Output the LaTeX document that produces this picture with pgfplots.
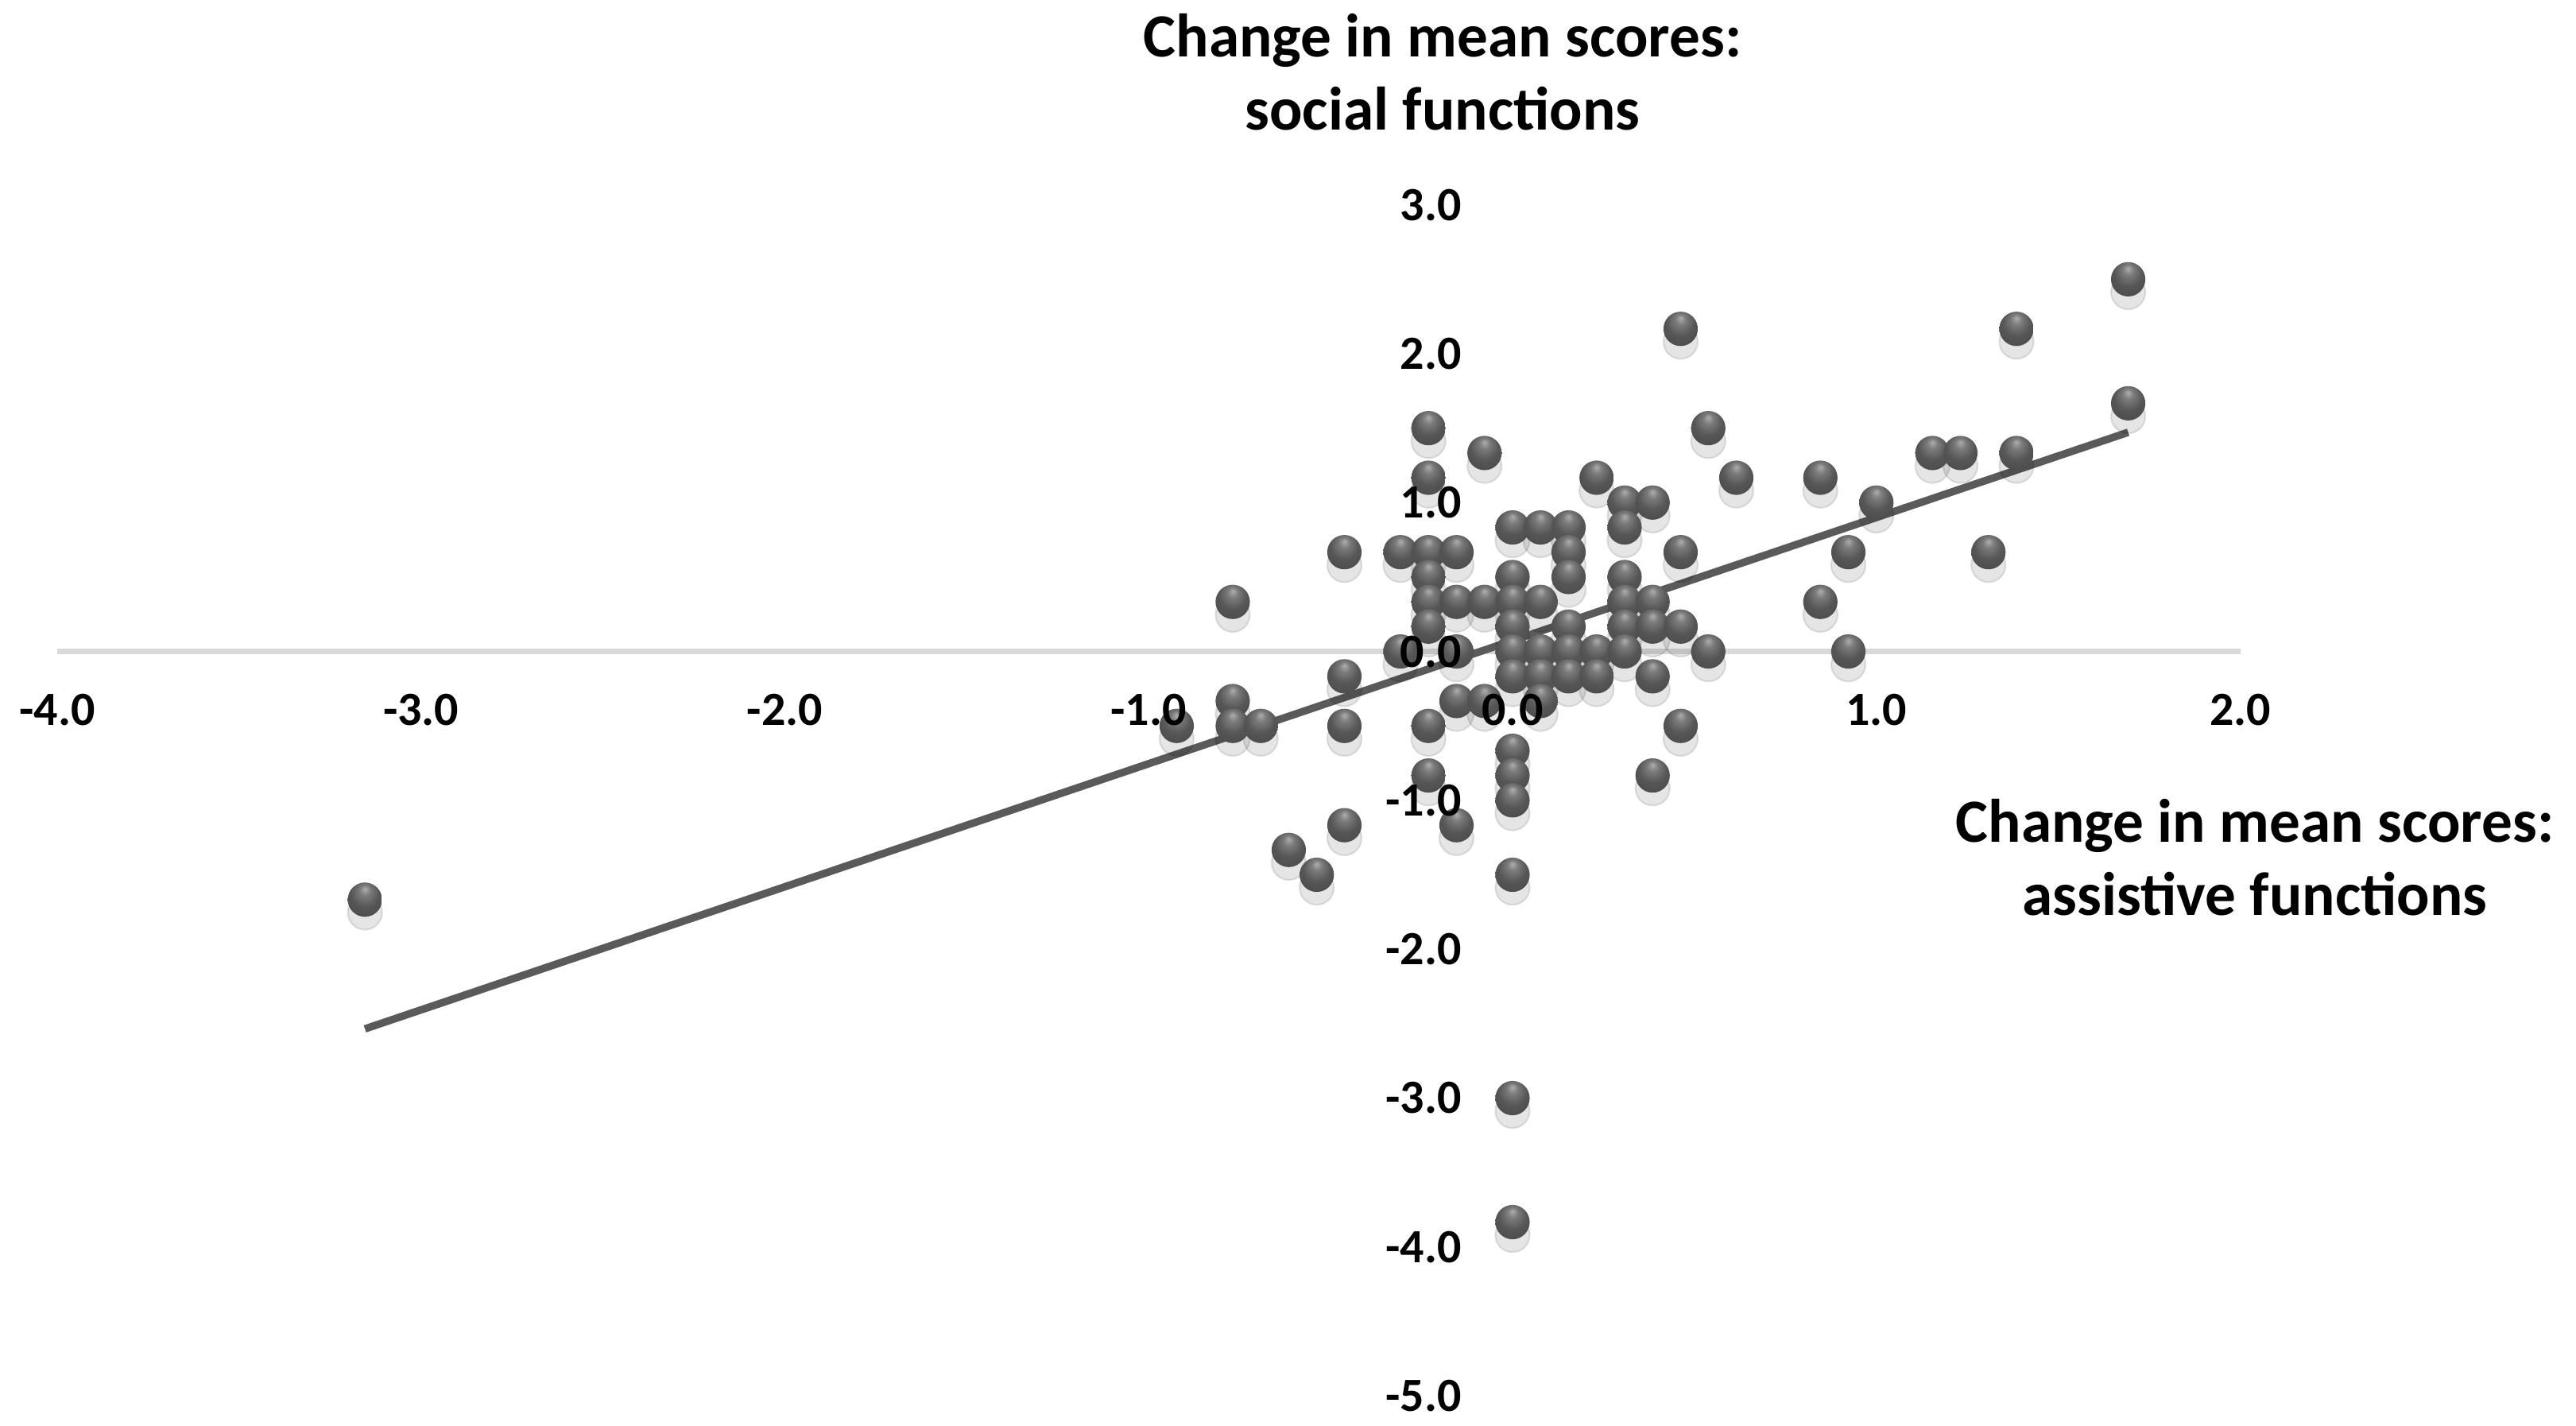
\documentclass[border=0pt]{standalone}
\usepackage{pgfplots}
\pgfplotsset{compat=1.18}
\usepackage{fontspec}
\setmainfont{Carlito}
\definecolor{trend}{HTML}{5A5A5A}
\definecolor{axisgray}{HTML}{D9D9D9}
\pgfdeclareradialshading{myball}{\pgfqpoint{0bp}{16bp}}{%
  color(0bp)=(black!32); color(8bp)=(black!52); color(20bp)=(black!66); color(38bp)=(black!72); color(50bp)=(black!86)}
\pgfdeclareplotmark{sball}{\pgfpathcircle{\pgfpointorigin}{\pgfplotmarksize}\pgfshadepath{myball}{0}\pgfusepath{}}

\pgfplotstableread{
x y
1.692 2.500
0.462 2.167
1.385 2.167
1.692 1.667
-0.231 1.500
0.538 1.500
-0.077 1.333
1.154 1.333
1.231 1.333
1.385 1.333
-0.231 1.167
0.231 1.167
0.615 1.167
0.846 1.167
0.308 1.000
0.385 1.000
1.000 1.000
0.000 0.833
0.077 0.833
0.154 0.833
0.308 0.833
-0.462 0.667
-0.308 0.667
-0.231 0.667
-0.154 0.667
0.154 0.667
0.462 0.667
0.923 0.667
1.308 0.667
-0.231 0.500
0.000 0.500
0.154 0.500
0.308 0.500
-0.769 0.333
-0.231 0.333
-0.154 0.333
-0.077 0.333
0.000 0.333
0.077 0.333
0.308 0.333
0.385 0.333
0.846 0.333
-0.231 0.167
0.000 0.167
0.154 0.167
0.308 0.167
0.385 0.167
0.462 0.167
-0.308 0.000
-0.154 0.000
0.000 0.000
0.077 0.000
0.154 0.000
0.231 0.000
0.308 0.000
0.538 0.000
0.923 0.000
-0.462 -0.167
0.000 -0.167
0.077 -0.167
0.154 -0.167
0.231 -0.167
0.385 -0.167
-0.769 -0.333
-0.154 -0.333
-0.077 -0.333
0.077 -0.333
-0.923 -0.500
-0.769 -0.500
-0.692 -0.500
-0.462 -0.500
-0.231 -0.500
0.462 -0.500
0.000 -0.667
-0.231 -0.833
0.000 -0.833
0.385 -0.833
0.000 -1.000
-0.462 -1.167
-0.154 -1.167
-0.615 -1.333
-0.538 -1.500
0.000 -1.500
-3.154 -1.667
0.000 -3.000
0.000 -3.833
}\scatterdata

\begin{document}
\begin{tikzpicture}
\begin{axis}[
  set layers=axis on top,
  at={(0pt,0pt)}, anchor=south west,
  width=508.5pt, height=277.4pt, scale only axis,
  xmin=-4, xmax=2, ymin=-5, ymax=3,
  axis x line=middle, axis y line=middle,
  x axis line style={draw=none},
  y axis line style={draw=none},
  hide obscured x ticks=false, hide obscured y ticks=false,
  major tick length=0pt,
  xtick={-4,-3,-2,-1,0,1,2},
  xticklabels={-4.0,-3.0,-2.0,-1.0,0.0,1.0,2.0},
  ytick={-5,-4,-3,-2,-1,0,1,2,3},
  yticklabels={-5.0,-4.0,-3.0,-2.0,-1.0,0.0,1.0,2.0,3.0},
  ticklabel style={font=\fontsize{11.1}{13}\selectfont\bfseries, text=black},
  xticklabel style={anchor=center, inner sep=0pt, yshift=-13.6pt},
  yticklabel style={anchor=east, inner sep=0pt, xshift=-11.7pt},
  clip=false,
]
\draw[axisgray, line width=1.3pt] (axis cs:-4,0) -- (axis cs:2,0);
\addplot[only marks, mark=*, black, opacity=0.10, mark size=4pt,
  mark options={yshift=-3pt}]
  table[x=x, y=y] {\scatterdata};
\addplot[only marks, mark=sball, mark size=4pt]
  table[x=x, y=y] {\scatterdata};
\addplot[trend, line width=1.75pt, no marks] coordinates {(-3.154,-2.535) (1.692,1.472)};
\end{axis}
\begin{scope}[font=\fontsize{14.3}{17}\selectfont\bfseries]
\node[anchor=base, inner sep=0pt] at (322.7pt,311.8pt) {Change in mean scores:};
\node[anchor=base, inner sep=0pt] at (322.7pt,294.9pt) {social functions};
\node[anchor=base, inner sep=0pt] at (511.9pt,128.9pt) {Change in mean scores:};
\node[anchor=base, inner sep=0pt] at (511.9pt,111.9pt) {assistive functions};
\end{scope}
\path (-13.3pt,-7.0pt) rectangle (586.7pt,325.1pt);
\end{tikzpicture}
\end{document}
